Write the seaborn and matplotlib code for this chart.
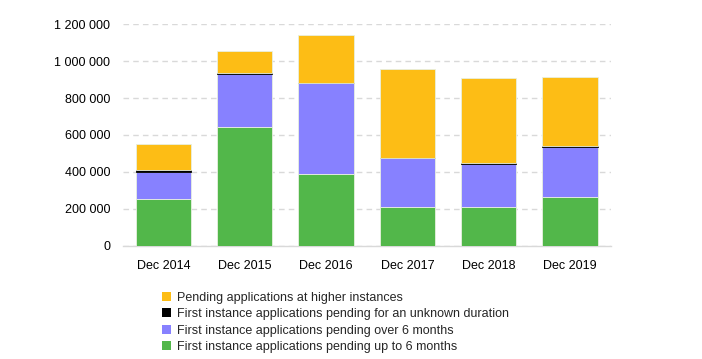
import matplotlib
matplotlib.use("Agg")
import matplotlib.pyplot as plt
from matplotlib.patches import Patch
import numpy as np
import pandas as pd
import seaborn as sns

periods = ["Dec 2014", "Dec 2015", "Dec 2016", "Dec 2017", "Dec 2018", "Dec 2019"]
up_to_6m = [252000, 645000, 387000, 213000, 213000, 265000]
over_6m = [150000, 285000, 496000, 263000, 232000, 272000]
unknown = [6000, 6000, 0, 0, 2000, 2000]
higher = [145000, 116000, 257000, 479000, 461000, 376000]

labels = [
    "First instance applications pending up to 6 months",
    "First instance applications pending over 6 months",
    "First instance applications pending for an unknown duration",
    "Pending applications at higher instances",
]
colors = ["#52B74A", "#8781FF", "#000000", "#FDBD15"]

sns.set_style("white")
plt.rcParams["font.family"] = ["Liberation Sans", "DejaVu Sans"]

fig = plt.figure(figsize=(7.02, 3.59), dpi=100)
ax = fig.add_axes([0.175, 0.315, 0.695, 0.618])

df = pd.DataFrame({"period": periods})
bottom = np.zeros(len(periods))
for vals, lab, col in zip([up_to_6m, over_6m, unknown, higher], labels, colors):
    df["v"] = vals
    sns.barplot(data=df, x="period", y="v", bottom=bottom, color=col,
                width=0.68, ax=ax, saturation=1, edgecolor="#e8f0e0" if col != "#000000" else col,
                linewidth=0.6, zorder=3)
    bottom = bottom + np.array(vals)

ax.set_ylim(0, 1200000)
ax.set_xlim(-0.5, len(periods) - 0.5)
ticks = np.arange(0, 1200001, 200000)
ax.set_yticks(ticks)
ax.set_yticklabels([f"{t:,}".replace(",", " ") for t in ticks])
ax.yaxis.grid(True, linestyle=(0, (4, 3)), color="#d9d9d9", linewidth=1, zorder=0)
ax.set_axisbelow(True)
for s in ["top", "right", "left"]:
    ax.spines[s].set_visible(False)
ax.spines["bottom"].set_color("#d9d9d9")
ax.spines["bottom"].set_linewidth(1)
ax.set_xlabel("")
ax.set_ylabel("")
ax.tick_params(axis="both", length=0, labelsize=9, colors="#000000")
ax.tick_params(axis="y", pad=9)
ax.tick_params(axis="x", pad=10)

handles = [Patch(facecolor=c, edgecolor="none") for c in colors]
leg = fig.legend(handles[::-1], labels[::-1], loc="upper left",
                 bbox_to_anchor=(0.222, 0.205), frameon=False, fontsize=9,
                 handlelength=0.7, handleheight=0.7, handletextpad=0.5,
                 labelspacing=0.36, borderpad=0)

fig.savefig("out.png", dpi=100)
